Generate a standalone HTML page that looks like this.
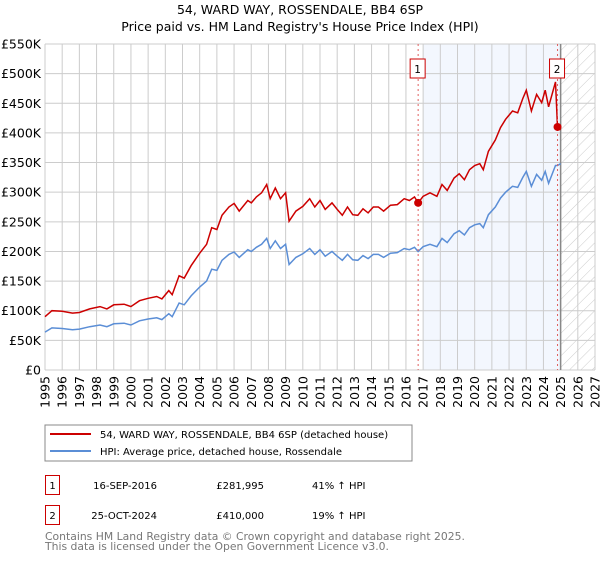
<!DOCTYPE html>
<html><head><meta charset="utf-8"><style>
body{margin:0;background:#fff;font-family:"DejaVu Sans","Liberation Sans",sans-serif;}
svg text{font-family:"DejaVu Sans","Liberation Sans",sans-serif;}
</style></head><body>
<svg id="chart" width="600" height="560" viewBox="0 0 600 560" xmlns="http://www.w3.org/2000/svg">
<defs><pattern id="hatch" patternUnits="userSpaceOnUse" width="8" height="8" patternTransform="rotate(45)"><line x1="0" y1="0" x2="0" y2="8" stroke="#ccc" stroke-width="1"/></pattern></defs>
<text x="300" y="14" text-anchor="middle" font-size="12.5">54, WARD WAY, ROSSENDALE, BB4 6SP</text>
<text x="300" y="31" text-anchor="middle" font-size="12.5">Price paid vs. HM Land Registry's House Price Index (HPI)</text>
<g id="bg"></g><g id="grid"></g><g id="ticks"></g><g id="series"></g><g id="marks"></g>
<g>
<rect x="45" y="425" width="367" height="36" fill="#fff" stroke="#888"/>
<line x1="50" y1="434" x2="91" y2="434" stroke="#cc0000" stroke-width="2"/>
<text x="100" y="438" font-size="10">54, WARD WAY, ROSSENDALE, BB4 6SP (detached house)</text>
<line x1="50" y1="451" x2="91" y2="451" stroke="#5b8ed6" stroke-width="2"/>
<text x="100" y="455" font-size="10">HPI: Average price, detached house, Rossendale</text>
</g>
<g font-size="10">
<rect x="45.5" y="475.5" width="14" height="19" fill="#fff" stroke="#cc0000"/><text x="52.5" y="489" text-anchor="middle">1</text>
<text x="157" y="489" text-anchor="end">16-SEP-2016</text><text x="264" y="489" text-anchor="end">£281,995</text><text x="312" y="489">41% ↑ HPI</text>
<rect x="45.5" y="505.5" width="14" height="19" fill="#fff" stroke="#cc0000"/><text x="52.5" y="519" text-anchor="middle">2</text>
<text x="157" y="519" text-anchor="end">25-OCT-2024</text><text x="264" y="519" text-anchor="end">£410,000</text><text x="312" y="519">19% ↑ HPI</text>
</g>
<text x="45" y="540" font-size="10.8" fill="#777">Contains HM Land Registry data © Crown copyright and database right 2025.</text>
<text x="45" y="550" font-size="10.8" fill="#777">This data is licensed under the Open Government Licence v3.0.</text>
</svg>
<script>
const years=[1995.0,1995.4,1996.0,1996.6,1997.0,1997.6,1998.2,1998.6,1999.0,1999.6,2000.0,2000.5,2001.0,2001.5,2001.8,2002.2,2002.4,2002.8,2003.1,2003.5,2004.0,2004.4,2004.7,2005.0,2005.3,2005.7,2006.0,2006.3,2006.8,2007.0,2007.3,2007.6,2007.9,2008.1,2008.4,2008.7,2009.0,2009.2,2009.6,2010.0,2010.4,2010.7,2011.0,2011.3,2011.7,2012.0,2012.3,2012.6,2012.9,2013.2,2013.5,2013.8,2014.1,2014.4,2014.7,2015.1,2015.5,2015.9,2016.2,2016.5,2016.71,2017.0,2017.4,2017.8,2018.1,2018.4,2018.8,2019.1,2019.4,2019.7,2020.0,2020.3,2020.5,2020.8,2021.2,2021.5,2021.8,2022.2,2022.5,2022.8,2023.0,2023.3,2023.6,2023.9,2024.1,2024.3,2024.7,2024.82,2025.0];
const hpiValues=[64,71,70,68,69,73,76,73,78,79,76,83,86,88,85,95,90,113,110,125,140,150,170,168,185,195,199,190,203,200,207,212,222,205,218,205,212,178,190,196,205,195,203,192,200,192,185,195,186,185,193,188,195,195,190,197,198,205,203,207,200,208,212,208,222,215,230,235,228,240,245,247,240,262,275,290,300,310,308,325,335,310,330,320,335,315,345,345,348];
const priceValues=[90,100,99,96,97,103,107,103,110,111,107,117,121,124,120,134,127,159,155,176,197,212,240,237,261,275,281,268,286,282,292,299,313,289,307,289,299,251,268,276,289,275,286,271,282,271,261,275,262,261,272,265,275,275,268,278,279,289,286,292,282,293,299,293,313,303,324,331,321,338,345,348,338,369,388,409,423,437,434,458,472,437,465,451,472,444,486,410,405];
const saleYears=[2016.71,2024.82];
const saleValues=[282,410];
const saleLabels=["1","2"];
const yTicks=[0,50,100,150,200,250,300,350,400,450,500,550];
const yTickLabels=["£0","£50K","£100K","£150K","£200K","£250K","£300K","£350K","£400K","£450K","£500K","£550K"];
const xTicks=[1995,1996,1997,1998,1999,2000,2001,2002,2003,2004,2005,2006,2007,2008,2009,2010,2011,2012,2013,2014,2015,2016,2017,2018,2019,2020,2021,2022,2023,2024,2025,2026,2027];
const X0=45,X1=595,Y0=370,Y1=44;
const sx=v=>X0+(v-1995)/(2027-1995)*(X1-X0);
const sy=v=>Y0-v/550*(Y0-Y1);
const NS="http://www.w3.org/2000/svg";
function mk(tag,attrs,parent){const e=document.createElementNS(NS,tag);for(const k in attrs)e.setAttribute(k,attrs[k]);document.getElementById(parent).appendChild(e);return e;}
let r=mk('rect',{x:sx(2017),y:Y1,width:sx(2025)-sx(2017),height:Y0-Y1,fill:'#eef3fd',opacity:'0.7'},'bg');


r=mk('rect',{x:sx(2025),y:Y1,width:X1-sx(2025),height:Y0-Y1,fill:'url(#hatch)'},'bg');


xTicks.forEach(t=>{const l=mk('line',{x1:sx(t),x2:sx(t),y1:Y1,y2:Y0,stroke:'#ccc'},'grid');


const tx=mk('text',{x:0,y:0,'font-size':'12.5','text-anchor':'end',transform:`translate(${sx(t)+4.5},${Y0+6}) rotate(-90)`},'ticks');tx.textContent=t;

});
yTicks.forEach((t,i)=>{const l=mk('line',{x1:X0,x2:X1,y1:sy(t),y2:sy(t),stroke:'#ccc'},'grid');


const tx=mk('text',{x:41,y:sy(t)+4.5,'font-size':'12.5','text-anchor':'end'},'ticks');tx.textContent=yTickLabels[i];

});
let ln=mk('line',{x1:sx(2025),x2:sx(2025),y1:Y1,y2:Y0,stroke:'#888','stroke-width':1.5},'grid');


const path=vals=>vals.map((v,i)=>(i?'L':'M')+sx(years[i]).toFixed(1)+','+sy(v).toFixed(1)).join('');
let p=mk('path',{d:path(hpiValues),fill:'none',stroke:'#5b8ed6','stroke-width':1.5},'series');


p=mk('path',{d:path(priceValues),fill:'none',stroke:'#cc0000','stroke-width':1.5},'series');


saleYears.forEach((yr,i)=>{const x=sx(yr);
const d=mk('line',{x1:x,x2:x,y1:Y1,y2:Y0,stroke:'#e06060','stroke-dasharray':'2,3'},'marks');


const c=mk('circle',{cx:x,cy:sy(saleValues[i]),r:4,fill:'#cc0000'},'marks');


const b=mk('rect',{x:x-8,y:59,width:15,height:19,fill:'#fff',stroke:'#cc0000'},'marks');


const t=mk('text',{x:x-0.5,y:73,'font-size':'10.5','text-anchor':'middle'},'marks');t.textContent=saleLabels[i];

});
</script>
</body></html>
